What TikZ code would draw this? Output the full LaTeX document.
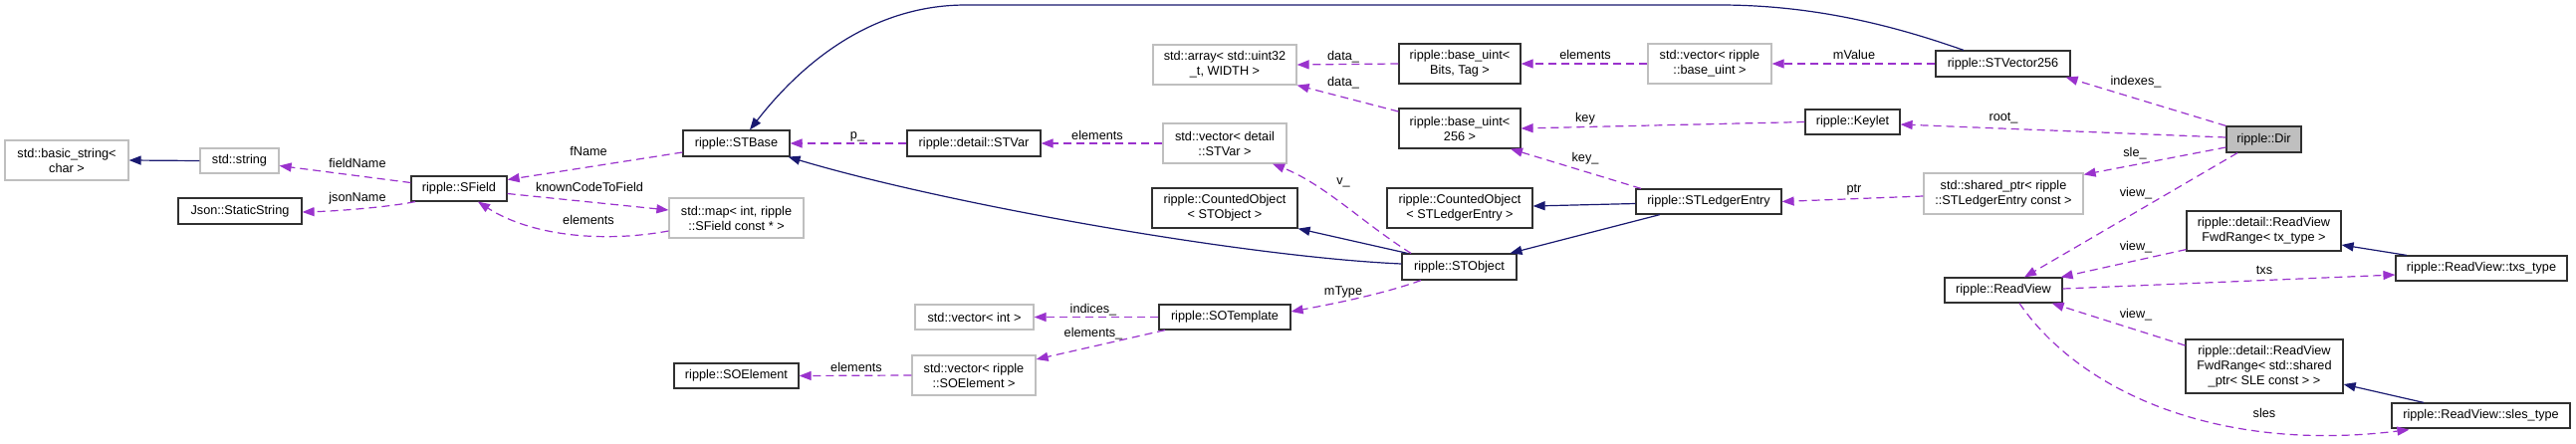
\documentclass[tikz,border=0pt]{standalone}
\usepackage{fontspec}
\setmainfont{Liberation Sans}
\usetikzlibrary{arrows.meta}
\definecolor{inhcol}{HTML}{191970}
\definecolor{usecol}{HTML}{9A32CD}
\definecolor{graybord}{HTML}{BFBFBF}
\definecolor{dirfill}{HTML}{BFBFBF}
\definecolor{boxbord}{HTML}{303030}
\begin{document}
\begin{tikzpicture}[x=1pt,y=-1pt,
  box/.style={draw=boxbord, line width=1.2pt, inner sep=0pt, align=center, font=\fontsize{12.7}{15}\selectfont},
  gbox/.style={box, draw=graybord},
  dirbox/.style={box, fill=dirfill},
  elabel/.style={inner sep=0pt, font=\fontsize{12.7}{15}\selectfont},
  inhedge/.style={draw=inhcol, line width=1.2pt, -{Triangle[length=12pt,width=9pt]}},
  useedge/.style={draw=usecol, line width=1.2pt, dash pattern=on 8pt off 5pt, -{Triangle[length=12pt,width=9pt]}}]
\fill[white] (0,0) rectangle (2587,445);
\useasboundingbox (0,0) rectangle (2587,445);

% nodes
\node[gbox, minimum width=124pt, minimum height=40pt] (bs) at (67,161) {std::basic\_string<\\char >};
\node[gbox, minimum width=79pt, minimum height=25pt] (str) at (240.5,161.5) {std::string};
\node[box, minimum width=124pt, minimum height=26pt] (json) at (241,212) {Json::StaticString};
\node[box, minimum width=96pt, minimum height=25pt] (sfield) at (461,189.5) {ripple::SField};
\node[box, minimum width=107pt, minimum height=26pt] (stbase) at (739.5,144) {ripple::STBase};
\node[gbox, minimum width=135pt, minimum height=40pt] (map) at (739.5,219) {std::map< int, ripple\\::SField const * >};
\node[box, minimum width=125pt, minimum height=25pt] (soel) at (739.5,377.5) {ripple::SOElement};
\node[box, minimum width=134pt, minimum height=26pt] (stvar) at (978,144) {ripple::detail::STVar};
\node[gbox, minimum width=119pt, minimum height=25pt] (vecint) at (978.5,318.5) {std::vector< int >};
\node[gbox, minimum width=124pt, minimum height=40pt] (vecsoel) at (978,377) {std::vector< ripple\\::SOElement >};
\node[gbox, minimum width=144pt, minimum height=40pt] (array) at (1230,65) {std::array< std::uint32\\\_t, WIDTH >};
\node[gbox, minimum width=124pt, minimum height=40pt] (vecstvar) at (1230,144) {std::vector< detail\\::STVar >};
\node[box, minimum width=146pt, minimum height=40pt] (costo) at (1230,209) {ripple::CountedObject\\< STObject >};
\node[box, minimum width=132pt, minimum height=25pt] (sotemplate) at (1230,318.5) {ripple::SOTemplate};
\node[box, minimum width=122pt, minimum height=40pt] (bubits) at (1466,64) {ripple::base\_uint<\\Bits, Tag >};
\node[box, minimum width=122pt, minimum height=40pt] (bu256) at (1466,129) {ripple::base\_uint<\\256 >};
\node[box, minimum width=146pt, minimum height=40pt] (cosle) at (1466,209) {ripple::CountedObject\\< STLedgerEntry >};
\node[box, minimum width=115pt, minimum height=26pt] (stobject) at (1465.5,268) {ripple::STObject};
\node[gbox, minimum width=124pt, minimum height=40pt] (vecbu) at (1717,64) {std::vector< ripple\\::base\_uint >};
\node[box, minimum width=95pt, minimum height=25pt] (keylet) at (1860.5,122.5) {ripple::Keylet};
\node[box, minimum width=146pt, minimum height=25pt] (sle) at (1716,202.5) {ripple::STLedgerEntry};
\node[box, minimum width=135pt, minimum height=26pt] (stv) at (2011.5,64) {ripple::STVector256};
\node[gbox, minimum width=160pt, minimum height=41pt] (shptr) at (2012,194.5) {std::shared\_ptr< ripple\\::STLedgerEntry const >};
\node[box, minimum width=118pt, minimum height=25pt] (readview) at (2012,291.5) {ripple::ReadView};
\node[dirbox, minimum width=75pt, minimum height=26pt] (dir) at (2273.5,140) {ripple::Dir};
\node[box, minimum width=155pt, minimum height=40pt] (fwdtx) at (2273.5,232) {ripple::detail::ReadView\\FwdRange< tx\_type >};
\node[box, minimum width=158pt, minimum height=54pt] (fwdsle) at (2274,368) {ripple::detail::ReadView\\FwdRange< std::shared\\\_ptr< SLE const > >};
\node[box, minimum width=172pt, minimum height=25pt] (txstype) at (2492,269.5) {ripple::ReadView::txs\_type};
\node[box, minimum width=179pt, minimum height=25pt] (slestype) at (2491.5,417.5) {ripple::ReadView::sles\_type};

% inheritance edges
\draw[inhedge] (str.west) -- (bs.east);
\draw[inhedge] ([yshift=3pt]stobject.west) .. controls (1250,258) and (950,205) .. ([xshift=-2pt]stbase.south east);
\draw[inhedge] ([xshift=-39.5pt]stv.north) .. controls (1900,25) and (1820,5) .. (1727,5) -- (970,5) .. controls (870,5) and (800,70) .. ([xshift=13.5pt]stbase.north);
\draw[inhedge] ([xshift=-52pt]stobject.north) -- (costo.south east);
\draw[inhedge] ([yshift=-2pt]sle.west) -- ([yshift=2pt]cosle.east);
\draw[inhedge] ([xshift=-49pt]sle.south) -- ([xshift=51pt]stobject.north);
\draw[inhedge] ([xshift=-75pt]txstype.north) -- ([yshift=-14pt]fwdtx.east);
\draw[inhedge] ([xshift=-57.5pt]slestype.north) -- ([yshift=-18pt]fwdsle.east);

% usage edges
\draw[useedge] ([yshift=6pt]sfield.west) -- ([yshift=-5pt]str.east);
\node[elabel] (lfield) at (359,164) {fieldName};
\draw[useedge] ([xshift=-44pt]sfield.south) .. controls (390,208) and (340,212) .. ([yshift=-1pt]json.east);
\node[elabel] (ljson) at (359,199) {jsonName};
\draw[useedge] ([yshift=-9pt]stbase.west) -- ([yshift=9pt]sfield.east);
\node[elabel] (lfname) at (591,152) {fName};
\draw[useedge] ([yshift=-5pt]sfield.east) -- ([yshift=8pt]map.west);
\node[elabel] (lknown) at (592,188) {knownCodeToField};
\draw[useedge] ([yshift=-13pt]map.west) .. controls (600,245) and (530,235) .. ([xshift=19pt]sfield.south);
\node[elabel] (lmapel) at (591,221) {elements};
\draw[useedge] (stvar.west) -- (stbase.east);
\node[elabel] (lp) at (861,137) {p\_};
\draw[useedge] (vecstvar.west) -- (stvar.east);
\node[elabel] (lvecel) at (1102,136) {elements};
\draw[useedge] ([xshift=-48.5pt]stobject.north) .. controls (1370,225) and (1330,185) .. ([xshift=48pt]vecstvar.south);
\node[elabel] (lv) at (1349,183) {v\_};
\draw[useedge] ([xshift=-38.5pt]stobject.south) .. controls (1390,295) and (1340,305) .. ([yshift=5.5pt]sotemplate.east);
\node[elabel] (lmtype) at (1349,293) {mType};
\draw[useedge] (sotemplate.west) -- (vecint.east);
\node[elabel] (lind) at (1098,311) {indices\_};
\draw[useedge] ([xshift=-60pt]sotemplate.south) -- ([yshift=16pt]vecsoel.east);
\node[elabel] (lsoel) at (1098,335) {elements\_};
\draw[useedge] (vecsoel.west) -- (soel.east);
\node[elabel] (lsoel2) at (860,369) {elements};
\draw[useedge] (bubits.west) -- (array.east);
\node[elabel] (ldata1) at (1349,57) {data\_};
\draw[useedge] ([yshift=17pt]bu256.west) -- (array.south east);
\node[elabel] (ldata2) at (1349,83) {data\_};
\draw[useedge] (vecbu.west) -- (bubits.east);
\node[elabel] (lbuel) at (1592,55) {elements};
\draw[useedge] (stv.west) -- (vecbu.east);
\node[elabel] (lmvalue) at (1862,55) {mValue};
\draw[useedge] (keylet.west) -- (bu256.east);
\node[elabel] (lkey) at (1592,119) {key};
\draw[useedge] ([xshift=-68pt]sle.north) -- ([xshift=51pt]bu256.south);
\node[elabel] (lkey2) at (1592,159) {key\_};
\draw[useedge] ([yshift=-2.5pt]shptr.west) -- (sle.east);
\node[elabel] (lptr) at (1862,191) {ptr};
\draw[useedge] (dir.north west) -- ([xshift=-5pt]stv.south east);
\node[elabel] (lindexes) at (2145,82) {indexes\_};
\draw[useedge] ([yshift=2pt]dir.west) -- ([yshift=-2.5pt]keylet.east);
\node[elabel] (lroot) at (2012,119) {root\_};
\draw[useedge] ([yshift=-8pt]dir.west) -- ([yshift=-2pt]shptr.north east);
\node[elabel] (lsle) at (2144,154) {sle\_};
\draw[useedge] ([xshift=-26.5pt]dir.south) -- ([xshift=21pt]readview.north);
\node[elabel] (lview1) at (2145,194) {view\_};
\draw[useedge] ([yshift=2pt]fwdtx.south west) -- ([xshift=-2pt]readview.north east);
\node[elabel] (lview2) at (2145,248) {view\_};
\draw[useedge] ([yshift=1.5pt]readview.east) -- ([yshift=-6.5pt]txstype.west);
\node[elabel] (ltxs) at (2274,271) {txs};
\draw[useedge] ([yshift=21pt]fwdsle.west) -- ([xshift=-11pt]readview.south east);
\node[elabel] (lview3) at (2145,316) {view\_};
\draw[useedge] ([xshift=16pt]readview.south) .. controls (2090,395) and (2230,455) .. ([xshift=18pt,yshift=-1pt]slestype.south west);
\node[elabel] (lsles) at (2274,415) {sles};
\end{tikzpicture}
\end{document}
